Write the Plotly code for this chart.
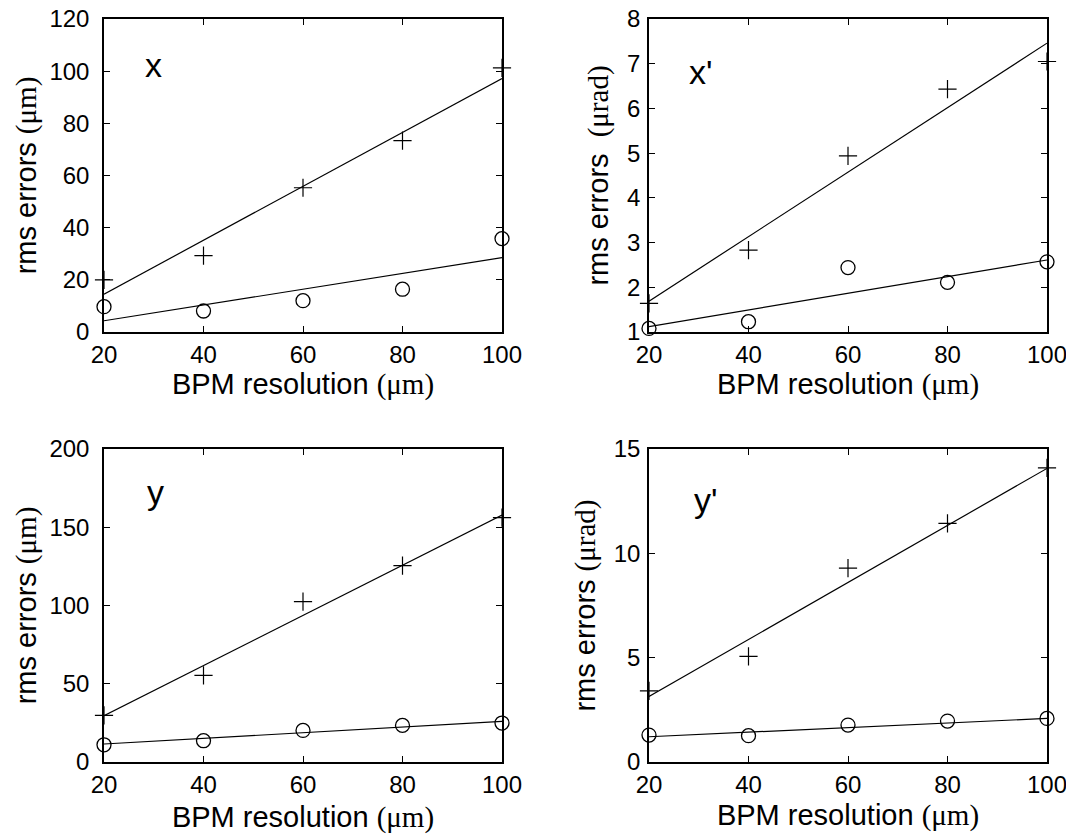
import plotly.graph_objects as go

# ---- data ----
bpm_res = [20, 40, 60, 80, 100]
fit_x = [20, 100]

x_plus = [20.0, 29.3, 55.3, 73.4, 101.3]
x_circ = [9.7, 8.05, 12.0, 16.4, 35.8]
x_fit_plus = [14.5, 97.2]
x_fit_circ = [4.3, 28.5]

xp_plus = [1.64, 2.83, 4.94, 6.43, 7.05]
xp_circ = [1.08, 1.23, 2.44, 2.11, 2.57]
xp_fit_plus = [1.69, 7.46]
xp_fit_circ = [1.12, 2.61]

y_plus = [29.8, 55.3, 102.5, 125.5, 156.1]
y_circ = [11.0, 13.6, 20.2, 23.4, 24.9]
y_fit_plus = [29.6, 157.8]
y_fit_circ = [11.5, 25.9]

yp_plus = [3.41, 5.06, 9.29, 11.44, 14.1]
yp_circ = [1.29, 1.26, 1.77, 1.96, 2.09]
yp_fit_plus = [3.14, 14.07]
yp_fit_circ = [1.21, 2.09]

panel_labels = ["x", "x'", "y", "y'"]
y_ranges = [[0, 120], [1, 8], [0, 200], [0, 15]]
y_dticks = [20, 1, 50, 5]
x_ticks = [20, 40, 60, 80, 100]

SANS = "Liberation Sans, Arial, sans-serif"
mu_m = '<span style="font-family:Liberation Serif">(μm)</span>'
mu_rad = '<span style="font-family:Liberation Serif">(μrad)</span>'
y_titles = ["rms errors " + mu_m, "rms errors  " + mu_rad,
            "rms errors " + mu_m, "rms errors " + mu_rad]
x_title = "BPM resolution " + mu_m

W, H = 1066, 839
# plot-area pixel boxes: (left, right, top, bottom)
boxes = [(104, 502, 19, 332), (649, 1047, 19, 332),
         (104, 502, 449, 762), (649, 1047, 449, 762)]

panels = [
    (x_plus, x_circ, x_fit_plus, x_fit_circ),
    (xp_plus, xp_circ, xp_fit_plus, xp_fit_circ),
    (y_plus, y_circ, y_fit_plus, y_fit_circ),
    (yp_plus, yp_circ, yp_fit_plus, yp_fit_circ),
]
x_standoffs = [2, 6, 10, 8]
y_standoffs = [4, 10, 4, 10]
y_label_gap = [8, 2, 8, 2]

fig = go.Figure()
layout = dict(
    template="none",
    width=W, height=H, margin=dict(l=0, r=0, t=0, b=0, autoexpand=False),
    paper_bgcolor="white", plot_bgcolor="white", showlegend=False,
    font=dict(family=SANS, color="black", size=24),
)
annotations = []
label_pos = [(153, 65), (701, 72), (155, 492), (706, 500)]

for i, (plus, circ, fplus, fcirc) in enumerate(panels):
    n = i + 1
    xa = "x" if n == 1 else f"x{n}"
    ya = "y" if n == 1 else f"y{n}"
    l, r, t, b = boxes[i]
    axis_common = dict(
        showgrid=False, zeroline=False, showline=True, linecolor="black",
        linewidth=1.5, mirror="ticks", ticks="inside", ticklen=6,
        tickwidth=1, tickcolor="black", automargin=False,
        tickfont=dict(family=SANS, size=24, color="black"),
    )
    layout["xaxis" if n == 1 else f"xaxis{n}"] = dict(
        axis_common, domain=[l / W, r / W], range=[20, 100],
        tickvals=x_ticks, anchor=ya, ticklabeloverflow="allow",
        title=dict(text=x_title, font=dict(family=SANS, size=29),
                   standoff=x_standoffs[i]),
    )
    layout["yaxis" if n == 1 else f"yaxis{n}"] = dict(
        axis_common, domain=[1 - b / H, 1 - t / H], range=y_ranges[i],
        dtick=y_dticks[i], anchor=xa, ticklabelstandoff=y_label_gap[i],
        title=dict(text=y_titles[i], font=dict(family=SANS, size=29),
                   standoff=y_standoffs[i]),
    )
    fig.add_trace(go.Scatter(x=fit_x, y=fplus, mode="lines",
                             line=dict(color="black", width=1.2),
                             xaxis=xa, yaxis=ya, cliponaxis=False))
    fig.add_trace(go.Scatter(x=fit_x, y=fcirc, mode="lines",
                             line=dict(color="black", width=1.2),
                             xaxis=xa, yaxis=ya, cliponaxis=False))
    fig.add_trace(go.Scatter(x=bpm_res, y=plus, mode="markers",
                             marker=dict(symbol="cross-thin-open", size=13, color="black",
                                         line=dict(color="black", width=1.2)),
                             xaxis=xa, yaxis=ya, cliponaxis=False))
    fig.add_trace(go.Scatter(x=bpm_res, y=circ, mode="markers",
                             marker=dict(symbol="circle-open", size=14, color="black",
                                         line=dict(color="black", width=1.3)),
                             xaxis=xa, yaxis=ya, cliponaxis=False))
    lx, ly = label_pos[i]
    annotations.append(dict(text=panel_labels[i], x=lx / W, y=1 - ly / H,
                            xref="paper", yref="paper", showarrow=False,
                            xanchor="center", yanchor="middle",
                            font=dict(family=SANS, size=34, color="black")))

layout["annotations"] = annotations
fig.update_layout(**layout)
fig.write_html("out.html")
